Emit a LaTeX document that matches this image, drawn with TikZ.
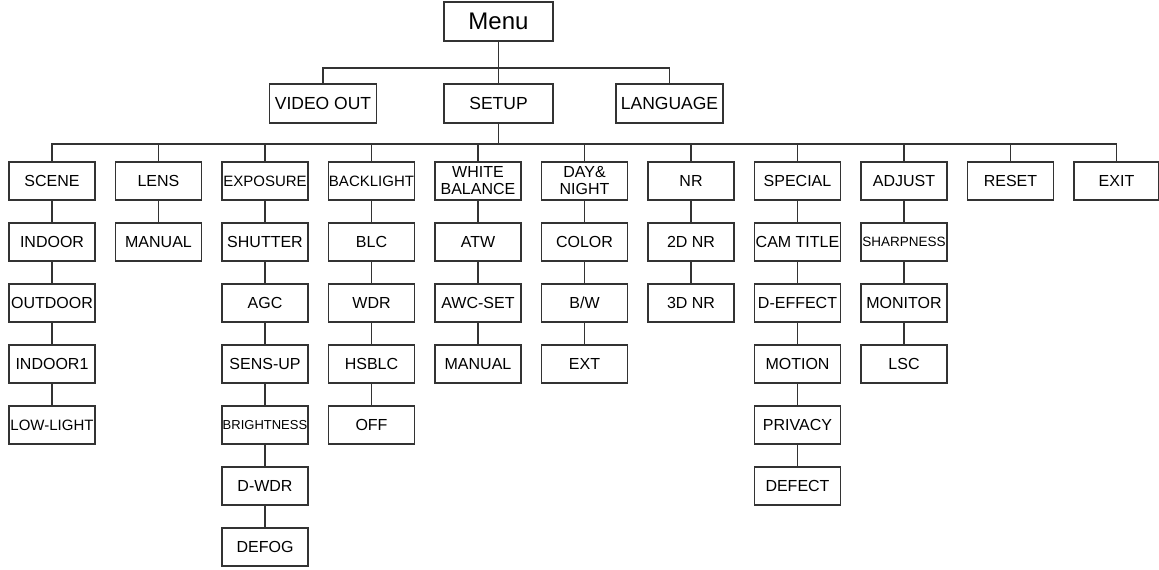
\documentclass[tikz,border=0pt]{standalone}
\usepackage{fontspec}
\setmainfont{Liberation Sans}
\begin{document}
\begin{tikzpicture}[x=1bp,y=-1bp,
  box/.style={draw=black!80, line width=1.2bp, minimum width=86bp, minimum height=38bp,
    inner sep=0pt, align=center, font=\fontsize{16bp}{17bp}\selectfont},
  topbox/.style={box, minimum width=107bp, minimum height=39bp, font=\fontsize{17.5bp}{19bp}\selectfont},
  fs/.style={font=\fontsize{#1}{#1}\selectfont},
  link/.style={draw=black!80, line width=1.2bp}]
\useasboundingbox (0,0) rectangle (1159,570);
% level 0 and 1
\node[topbox, minimum width=109bp, fs=24bp] (menu) at (498.5,21.5) {Menu};
\node[topbox] (vo) at (323,103.5) {VIDEO OUT};
\node[topbox, minimum width=109bp] (setup) at (498.5,103.5) {SETUP};
\node[topbox] (lang) at (669.5,103.5) {LANGUAGE};
% level 2
\node[box] (scene) at (52,181) {SCENE};
\node[box] (lens) at (158.5,181) {LENS};
\node[box, fs=15bp] (exposure) at (265,181) {EXPOSURE};
\node[box, fs=15bp] (backlight) at (371.5,181) {BACKLIGHT};
\node[box] (wb) at (478,181) {WHITE\\BALANCE};
\node[box] (dn) at (584.5,181) {DAY\&\\NIGHT};
\node[box] (nr) at (691,181) {NR};
\node[box] (special) at (797.5,181) {SPECIAL};
\node[box] (adjust) at (904,181) {ADJUST};
\node[box] (reset) at (1010.5,181) {RESET};
\node[box, minimum width=85bp] (exit) at (1116.5,181) {EXIT};
% SCENE column
\node[box] (indoor) at (52,242) {INDOOR};
\node[box] (outdoor) at (52,303) {OUTDOOR};
\node[box] (indoorone) at (52,364) {INDOOR1};
\node[box, fs=15bp] (lowlight) at (52,425) {LOW-LIGHT};
% LENS column
\node[box] (lmanual) at (158.5,242) {MANUAL};
% EXPOSURE column
\node[box] (shutter) at (265,242) {SHUTTER};
\node[box] (agc) at (265,303) {AGC};
\node[box] (sensup) at (265,364) {SENS-UP};
\node[box, fs=13bp] (brightness) at (265,425) {BRIGHTNESS};
\node[box] (dwdr) at (265,486) {D-WDR};
\node[box] (defog) at (265,547) {DEFOG};
% BACKLIGHT column
\node[box] (blc) at (371.5,242) {BLC};
\node[box] (wdr) at (371.5,303) {WDR};
\node[box] (hsblc) at (371.5,364) {HSBLC};
\node[box] (off) at (371.5,425) {OFF};
% WHITE BALANCE column
\node[box] (atw) at (478,242) {ATW};
\node[box] (awcset) at (478,303) {AWC-SET};
\node[box] (wbmanual) at (478,364) {MANUAL};
% DAY&NIGHT column
\node[box] (color) at (584.5,242) {COLOR};
\node[box] (bw) at (584.5,303) {B/W};
\node[box] (ext) at (584.5,364) {EXT};
% NR column
\node[box] (nrtwo) at (691,242) {2D NR};
\node[box] (nrthree) at (691,303) {3D NR};
% SPECIAL column
\node[box] (camtitle) at (797.5,242) {CAM TITLE};
\node[box] (deffect) at (797.5,303) {D-EFFECT};
\node[box] (motion) at (797.5,364) {MOTION};
\node[box] (privacy) at (797.5,425) {PRIVACY};
\node[box] (defect) at (797.5,486) {DEFECT};
% ADJUST column
\node[box, fs=13.5bp] (sharpness) at (904,242) {SHARPNESS};
\node[box] (monitor) at (904,303) {MONITOR};
\node[box] (lsc) at (904,364) {LSC};
% connectors top
\coordinate (busone) at (498.5,68);
\coordinate (bustwo) at (498.5,144);
\draw[link] (menu.south) -- (setup.north);
\draw[link] (vo.north) |- (busone) -| (lang.north);
\draw[link] (setup.south) -- (bustwo);
\draw[link] (scene.north) |- (bustwo) -| (exit.north);
\foreach \n in {lens,exposure,backlight,wb,dn,nr,special,adjust,reset}
  \draw[link] (\n.north) -- (\n.north |- bustwo);
% vertical chains
\foreach \a/\b in {scene/indoor, indoor/outdoor, outdoor/indoorone, indoorone/lowlight,
  lens/lmanual,
  exposure/shutter, shutter/agc, agc/sensup, sensup/brightness, brightness/dwdr, dwdr/defog,
  backlight/blc, blc/wdr, wdr/hsblc, hsblc/off,
  wb/atw, atw/awcset, awcset/wbmanual,
  dn/color, color/bw, bw/ext,
  nr/nrtwo, nrtwo/nrthree,
  special/camtitle, camtitle/deffect, deffect/motion, motion/privacy, privacy/defect,
  adjust/sharpness, sharpness/monitor, monitor/lsc}
  \draw[link] (\a.south) -- (\b.north);
\end{tikzpicture}
\end{document}
